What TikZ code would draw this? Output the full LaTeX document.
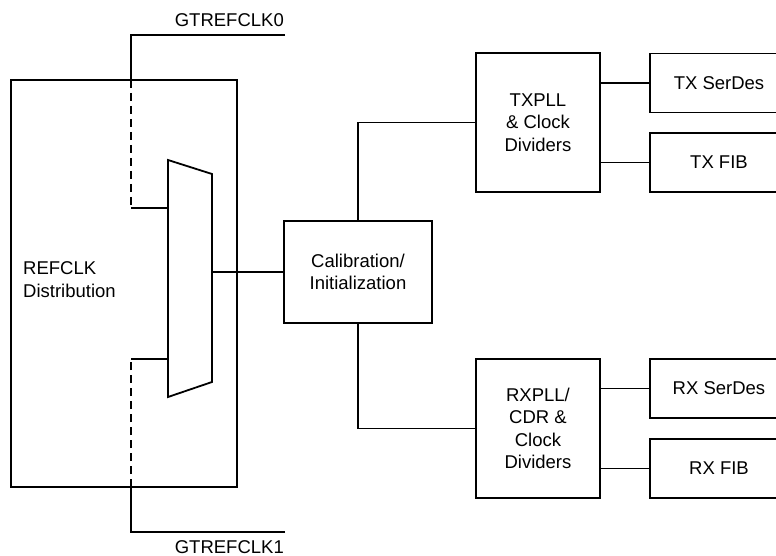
\documentclass[tikz,border=0pt]{standalone}
\usepackage{fontspec}
\setmainfont{Liberation Sans}
\usetikzlibrary{calc,positioning}
\tikzset{
  blk/.style={draw,line width=1.8pt,rectangle,inner sep=0pt,align=center,font=\fontsize{18.5}{22.5}\selectfont},
  blk-out/.style={blk,minimum width=138pt,minimum height=59pt},
  blk-pll/.style={blk,minimum width=124pt,minimum height=139pt},
  txt/.style={inner sep=0pt,align=left,font=\fontsize{18.5}{22.5}\selectfont},
  wire/.style={line width=1.8pt},
  wire-d/.style={line width=1.8pt,dash pattern=on 8pt off 5pt},
}
\begin{document}
\begin{tikzpicture}[x=1pt,y=-1pt]
  \useasboundingbox (0,0) rectangle (776,556);

  % REFCLK distribution og mux
  \node[blk,minimum width=226pt,minimum height=407pt] (refclk) at (124,283.5) {};
  \node[txt,anchor=west] (refclktxt) at (23,279.5) {REFCLK\\Distribution};
  \coordinate (mux-tl) at (168,160);
  \coordinate (mux-tr) at (212,174);
  \coordinate (mux-br) at (212,382);
  \coordinate (mux-bl) at (168,397);
  \coordinate (mux-in0) at (168,208);
  \coordinate (mux-in1) at (168,359);
  \coordinate (mux-out) at (212,272);
  \draw[wire] (mux-tl) -- (mux-tr) -- (mux-br) -- (mux-bl) -- cycle;

  % GTREFCLK inngangar
  \coordinate (gt0-end) at (285,35);
  \coordinate (gt0-knee) at (131,35);
  \coordinate (gt0-in) at (131,80);
  \coordinate (gt0-low) at (131,208);
  \coordinate (gt1-end) at (285,532);
  \coordinate (gt1-knee) at (131,532);
  \coordinate (gt1-in) at (131,487);
  \coordinate (gt1-up) at (131,359);
  \node[txt,anchor=base east] (gt0) at (284,27) {GTREFCLK0};
  \node[txt,anchor=base east] (gt1) at (284,553) {GTREFCLK1};
  \draw[wire] (gt0-end) -- (gt0-knee) -- (gt0-in);
  \draw[wire-d] (gt0-in) -- (gt0-low);
  \draw[wire] (gt0-low) -- (mux-in0);
  \draw[wire] (gt1-end) -- (gt1-knee) -- (gt1-in);
  \draw[wire-d] (gt1-in) -- (gt1-up);
  \draw[wire] (gt1-up) -- (mux-in1);

  % kalibrering og PLL
  \node[blk,minimum width=148pt,minimum height=102pt] (cal) at (358,272) {Calibration/\\Initialization};
  \node[blk-pll] (txpll) at (538,122.5) {TXPLL\\\& Clock\\Dividers};
  \node[blk-pll] (rxpll) at (538,428.5) {RXPLL/\\CDR \&\\Clock\\Dividers};
  \draw[wire] (mux-out) -- (cal.west);
  \draw[wire] (cal.north) |- (txpll.west);
  \draw[wire] (cal.south) |- (rxpll.west);

  % SerDes og FIB
  \node[blk-out] (txserdes) at (719,83)    {TX SerDes};
  \node[blk-out] (txfib)    at (719,162.5) {TX FIB};
  \node[blk-out] (rxserdes) at (719,388.5) {RX SerDes};
  \node[blk-out] (rxfib)    at (719,468.5) {RX FIB};
  \draw[wire] (txserdes.west) -- (txserdes.west -| txpll.east);
  \draw[wire] (txfib.west)    -- (txfib.west -| txpll.east);
  \draw[wire] (rxserdes.west) -- (rxserdes.west -| rxpll.east);
  \draw[wire] (rxfib.west)    -- (rxfib.west -| rxpll.east);

\end{tikzpicture}
\end{document}
